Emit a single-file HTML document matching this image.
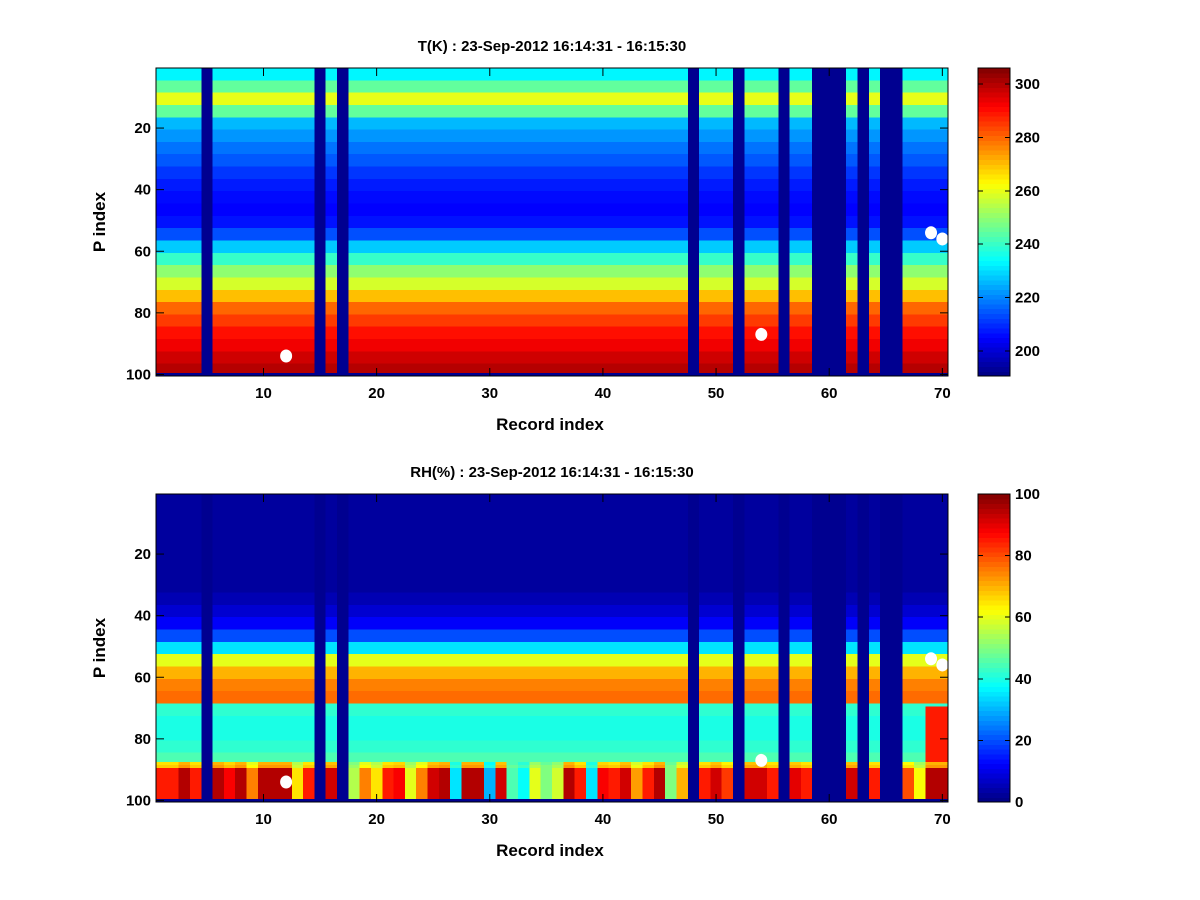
<!DOCTYPE html>
<html><head><meta charset="utf-8"><style>
body{margin:0;background:#fff;}
svg{display:block;font-family:"Liberation Sans",Arial,sans-serif;font-weight:bold;}
</style></head><body>
<svg id="fig" width="1200" height="900" xmlns="http://www.w3.org/2000/svg">
<rect width="1200" height="900" fill="#fff"/>
<g id="p1"></g>
<g id="p2"></g>
</svg>
<script>
// ---- data ----
const missingCols = [5,15,17,48,52,56,59,60,61,63,65,66];
const tProfile = [233,245,260,245,226,222,218,215,211,208,206,205,207,214,228,240,250,258,270,280,285,290,293,297,300];
const rhProfile = [3,3,3,3,3,3,3,3,5,8,12,20,35,60,70,75,77,42,40,40,42,45,50,0,0];
const rhBottom = [85,85,95,85,0,95,88,95,75,95,95,95,65,85,0,92,0,55,75,65,85,88,60,75,92,95,35,95,95,30,92,45,38,60,50,58,95,85,35,88,85,92,72,85,95,50,70,0,85,92,82,0,92,92,85,0,90,85,0,0,0,92,0,85,0,0,80,62,95,95];
const markers = [[12,94],[54,87],[69,54],[70,56]];
const xTicks = [10,20,30,40,50,60,70];
const yTicks = [20,40,60,80,100];
const tTicks = [200,220,240,260,280,300];
const rhTicks = [0,20,40,60,80,100];
const panels = [
 {id:'p1',top:68,title:'T(K) : 23-Sep-2012 16:14:31 - 16:15:30',cmin:190.6,cmax:306,ticks:tTicks,kind:'t'},
 {id:'p2',top:494,title:'RH(%) : 23-Sep-2012 16:14:31 - 16:15:30',cmin:0,cmax:100,ticks:rhTicks,kind:'rh'}
];
// ---- rendering ----
const NS='http://www.w3.org/2000/svg';
const L=156,R=948,H=308,NC=70,NR=100;
function jet(v){
  v=Math.max(0,Math.min(1,v));
  const f=(x)=>Math.max(0,Math.min(1,x));
  const r=f(1.5-Math.abs(4*v-3)), g=f(1.5-Math.abs(4*v-2)), b=f(1.5-Math.abs(4*v-1));
  return `rgb(${Math.round(r*255)},${Math.round(g*255)},${Math.round(b*255)})`;
}
function el(tag,attrs,parent){const e=document.createElementNS(NS,tag);for(const k in attrs)e.setAttribute(k,attrs[k]);parent.appendChild(e);return e;}
function value(kind,c,r){
  if(r===100||missingCols.includes(c))return null;
  const idx=Math.floor((r-1)/4);
  if(kind==='t')return tProfile[idx];
  if(r>=90)return rhBottom[c-1];
  if(r>=88)return (rhProfile[idx]+rhBottom[c-1])/2;
  if(c>=69&&r>=70)return 85;
  return rhProfile[idx];
}
panels.forEach(p=>{
  const g=document.getElementById(p.id);
  const T=p.top,B=p.top+H;
  const xs=(x)=>L+(x-0.5)*(R-L)/NC;
  const ys=(y)=>T+(y-0.5)*H/NR;
  const hm=el('g',{'shape-rendering':'crispEdges'},g);
  
  
  for(let c=1;c<=NC;c++){
    for(let r=1;r<=NR;r++){
      const v=value(p.kind,c,r);
      const col=v===null?'#000090':jet((v-p.cmin)/(p.cmax-p.cmin));
      const rc=el('rect',{x:xs(c-0.5),y:ys(r-0.5),width:(R-L)/NC+0.6,height:H/NR+0.6,fill:col},hm);
      
      
    }
  }
  markers.forEach(m=>{
    const e=el('ellipse',{cx:xs(m[0]),cy:ys(m[1]),rx:6,ry:6.5,fill:'#fff'},g);
    
    
  });
  const box=el('rect',{x:L,y:T,width:R-L,height:H,fill:'none',stroke:'#000','stroke-width':1},g);
  
  
  xTicks.forEach(t=>{
    const x=xs(t);
    el('line',{x1:x,x2:x,y1:B,y2:B-8,stroke:'#000'},g);
    el('line',{x1:x,x2:x,y1:T,y2:T+8,stroke:'#000'},g);
    const tx=el('text',{x:x,y:B+22,'font-size':15,'text-anchor':'middle'},g);
    tx.textContent=t;
    
    
  });
  yTicks.forEach(t=>{
    const y=ys(t);
    el('line',{x1:L,x2:L+8,y1:y,y2:y,stroke:'#000'},g);
    el('line',{x1:R,x2:R-8,y1:y,y2:y,stroke:'#000'},g);
    const tx=el('text',{x:L-5,y:y+5,'font-size':15,'text-anchor':'end'},g);
    tx.textContent=t;
    
    
  });
  const ti=el('text',{x:552,y:T-17,'font-size':15,'text-anchor':'middle'},g);
  ti.textContent=p.title;
  
  
  const xl=el('text',{x:550,y:B+54,'font-size':17,'text-anchor':'middle'},g);
  xl.textContent='Record index';
  
  
  const yl=el('text',{x:0,y:0,'font-size':17,'text-anchor':'middle',transform:`translate(105,${T+H/2}) rotate(-90)`},g);
  yl.textContent='P index';
  
  
  const CL=978,CW=32;
  const cb=el('g',{'shape-rendering':'crispEdges'},g);
  
  
  const n=64;
  for(let i=0;i<n;i++){
    el('rect',{x:CL,y:B-(i+1)*H/n,width:CW,height:H/n+0.6,fill:jet((i+0.5)/n)},cb);
  }
  el('rect',{x:CL,y:T,width:CW,height:H,fill:'none',stroke:'#000'},cb);
  p.ticks.forEach(t=>{
    const y=B-(t-p.cmin)/(p.cmax-p.cmin)*H;
    el('line',{x1:CL,x2:CL+5,y1:y,y2:y,stroke:'#000'},cb);
    el('line',{x1:CL+CW,x2:CL+CW-5,y1:y,y2:y,stroke:'#000'},cb);
    const tx=el('text',{x:CL+CW+5,y:y+5,'font-size':15},cb);
    tx.textContent=t;
    
    
  });
});
</script>
</body></html>
